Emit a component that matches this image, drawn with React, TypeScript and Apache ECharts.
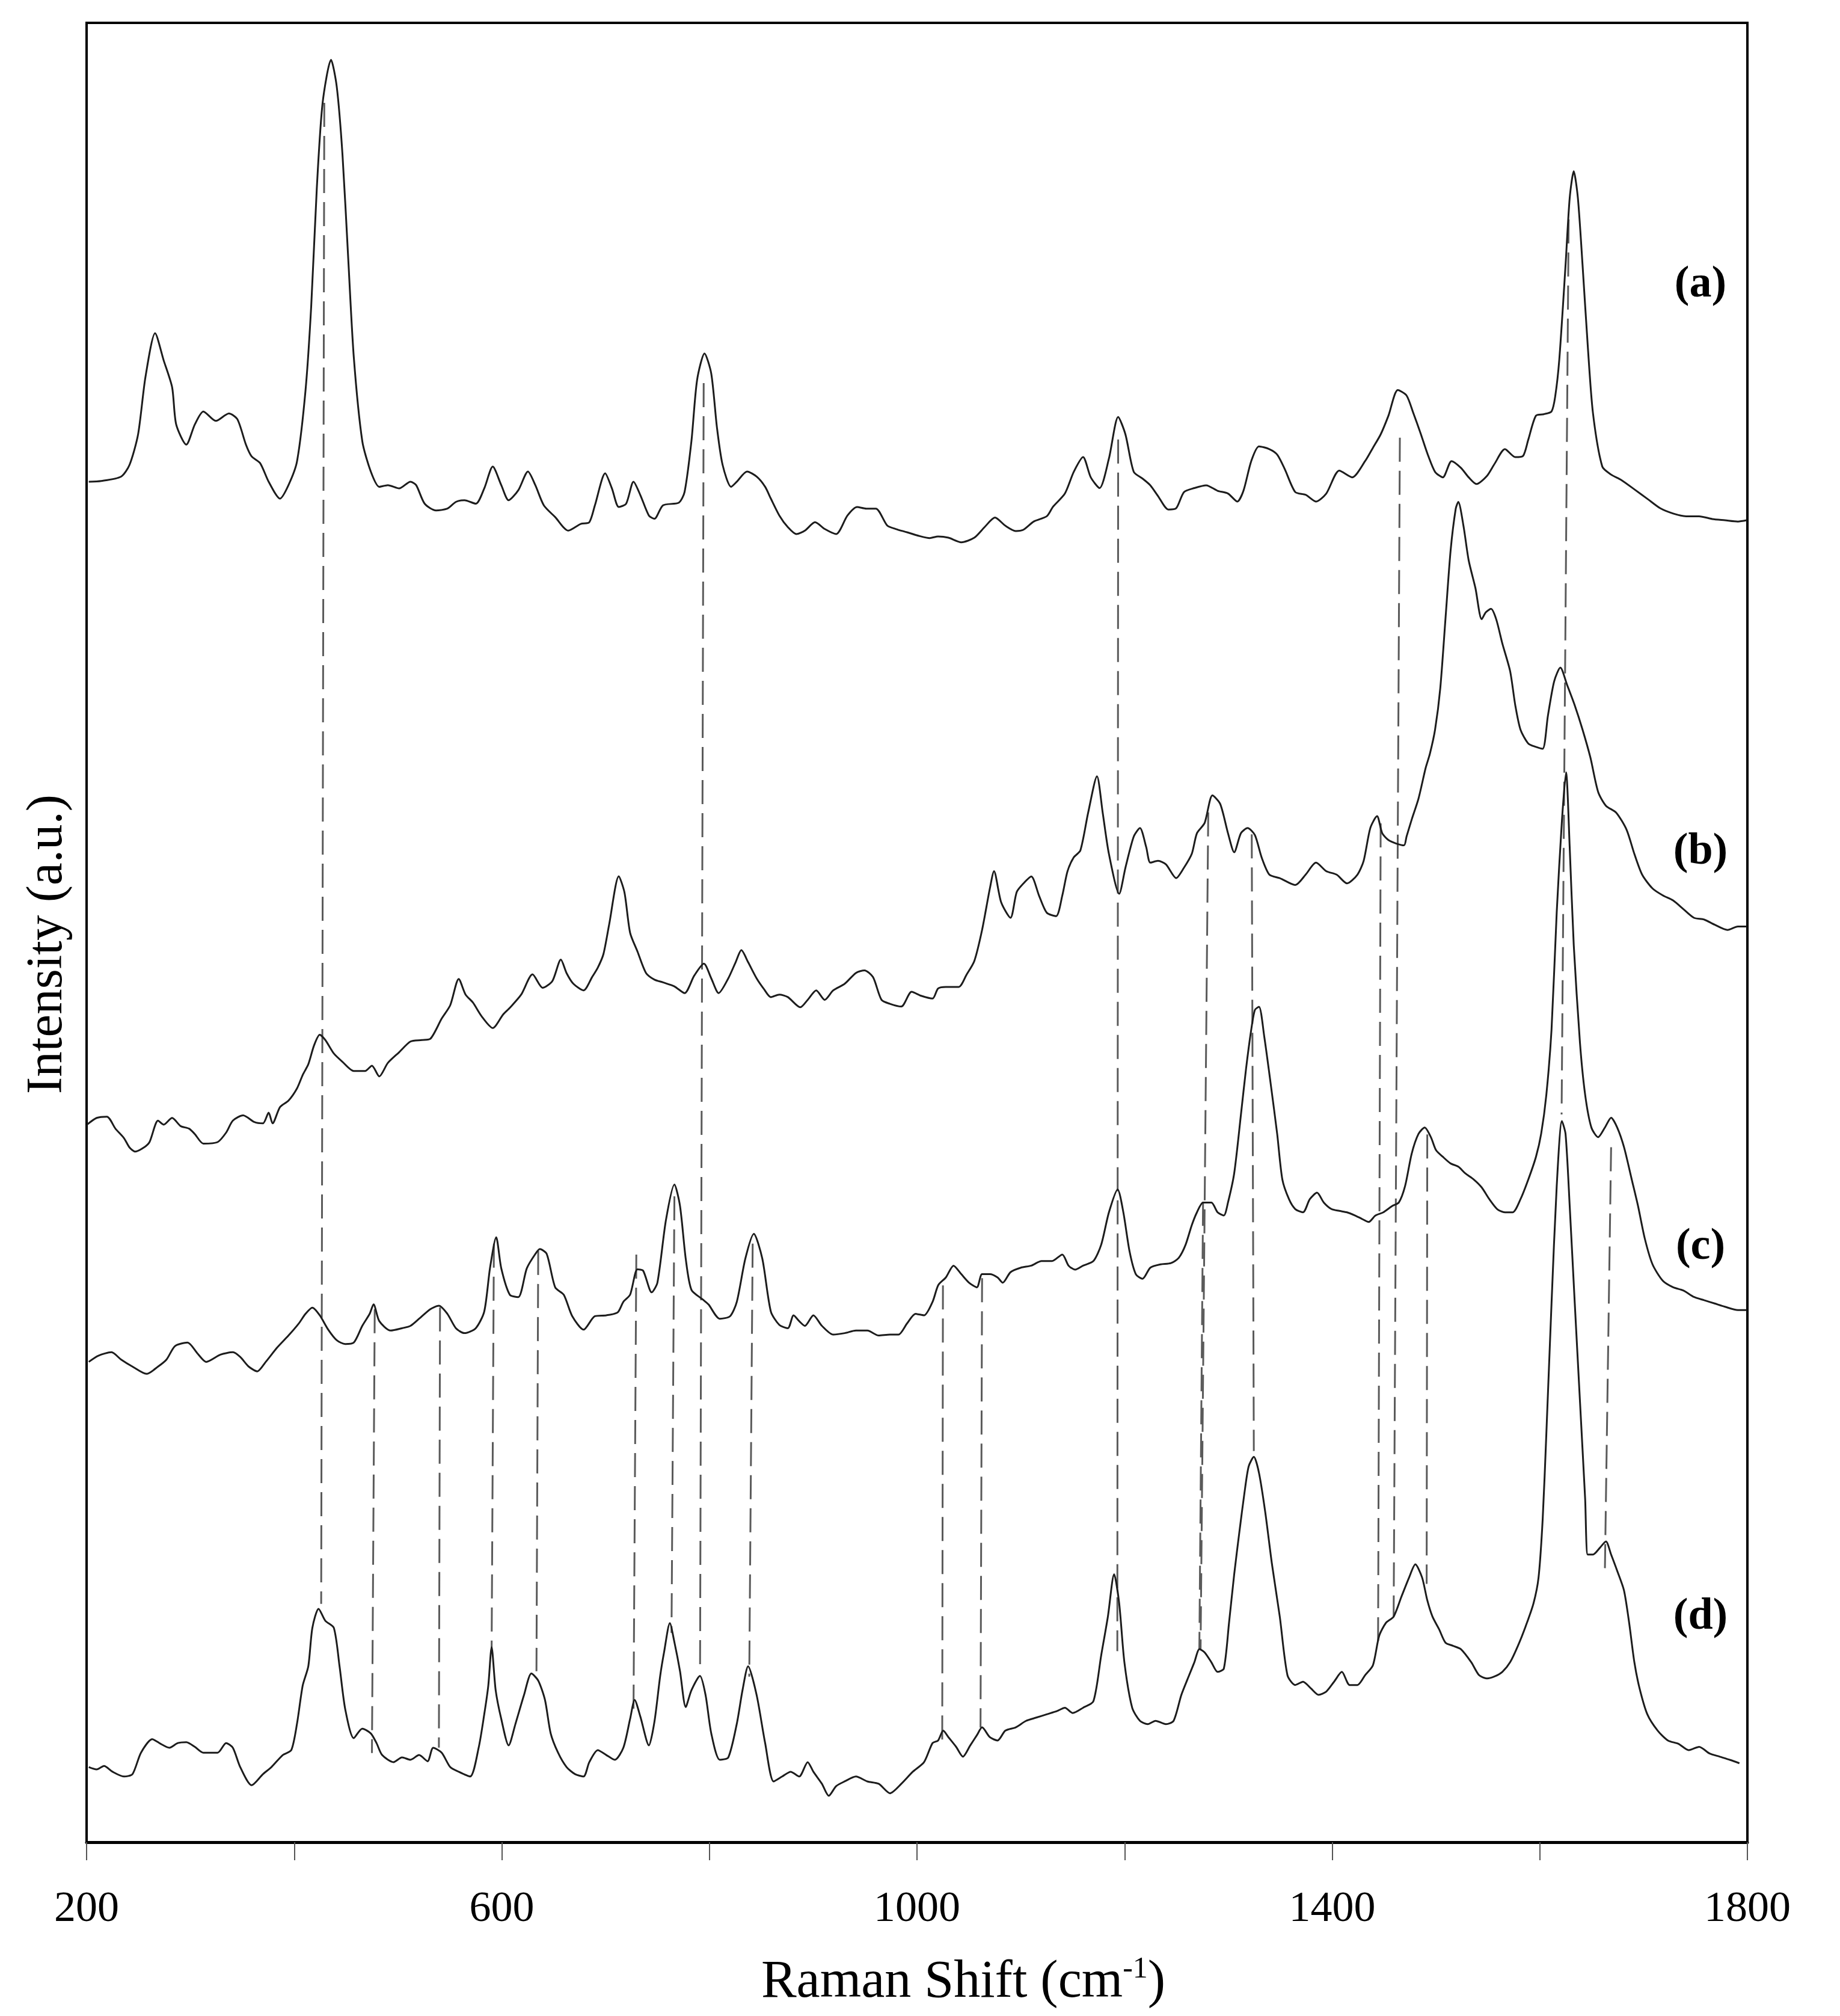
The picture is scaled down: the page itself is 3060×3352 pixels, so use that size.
import React, { useEffect, useRef } from "react";
import * as echarts from "echarts";

// Raman shift (cm-1) / intensity (a.u., vertically offset) pairs
const spectrumA: [number, number][] = [
  [202.1,74.78],[214.1,74.82],[233.2,75.06],[241.4,75.71],[249.6,77.38],[256.7,80.53],[266.0,82.94],[274.2,81.46],[282.4,79.97],[286.3,77.93],
  [296.1,76.82],[304.3,77.93],[312.5,78.64],[324.5,78.12],[337.1,78.53],[345.3,78.21],[353.5,76.82],[359.0,76.17],[367.2,75.80],[375.4,74.78],
  [386.3,73.85],[394.5,74.59],[402.7,75.89],[410.9,79.79],[416.4,84.43],[421.8,90.92],[427.3,95.56],[435.5,97.97],[441.0,96.49],[446.5,92.78],
  [451.9,87.21],[457.4,81.64],[465.6,77.01],[473.8,75.34],[482.0,74.50],[490.2,74.59],[501.1,74.41],[512.0,74.78],[517.5,74.59],[525.7,73.57],
  [536.7,73.20],[547.6,73.30],[555.8,73.67],[564.0,73.76],[575.0,73.57],[583.1,74.41],[591.3,75.61],[599.5,74.59],[606.6,73.76],[616.0,74.32],
  [625.2,75.34],[632.3,74.59],[640.5,73.48],[651.5,72.83],[664.0,72.09],[676.1,72.46],[684.3,72.55],[689.7,73.48],[699.6,75.24],[706.1,74.41],
  [712.7,73.39],[719.8,73.57],[726.9,74.78],[733.5,74.04],[741.7,72.92],[747.1,72.74],[755.3,73.48],[770.6,73.63],[776.1,74.22],[782.7,77.01],
  [788.1,80.35],[795.3,81.83],[801.8,80.72],[807.3,77.75],[812.7,75.71],[820.9,74.50],[826.4,74.78],[836.3,75.34],[845.5,75.06],[853.7,74.50],
  [859.2,73.85],[867.4,72.92],[875.6,72.28],[883.8,71.90],[892.0,72.09],[901.8,72.55],[911.1,72.18],[922.1,71.90],[933.0,72.92],[942.3,73.39],
  [951.1,73.30],[960.4,73.30],[971.3,72.37],[979.5,72.18],[990.4,72.00],[1001.3,71.81],[1012.3,71.68],[1020.3,71.77],[1030.3,71.70],[1042.7,71.45],
  [1055.2,71.70],[1065.2,72.29],[1075.1,72.81],[1085.1,72.36],[1095.1,72.07],[1102.6,72.14],[1112.5,72.59],[1125.0,72.88],[1131.0,73.40],[1142.5,74.13],
  [1151.0,75.32],[1160.0,76.13],[1167.4,75.02],[1175.9,74.43],[1184.9,76.05],[1193.8,78.34],[1200.8,77.38],[1208.8,75.32],[1217.3,74.95],[1224.8,74.58],
  [1232.2,73.99],[1242.2,73.25],[1249.7,73.32],[1257.2,74.21],[1267.2,74.43],[1278.6,74.58],[1289.6,74.28],[1299.6,74.13],[1308.6,73.69],[1314.5,74.28],
  [1322.0,75.91],[1329.5,76.72],[1339.5,76.57],[1347.0,76.27],[1354.4,75.46],[1364.4,74.21],[1374.4,74.06],[1384.4,73.69],[1394.3,74.13],[1406.8,75.39],
  [1419.3,75.02],[1431.7,75.91],[1439.2,76.64],[1446.7,77.38],[1454.2,78.41],[1463.2,79.82],[1471.6,79.52],[1478.1,78.56],[1485.1,77.45],[1491.6,76.35],
  [1499.1,75.32],[1506.6,75.02],[1515.0,75.91],[1524.0,75.54],[1531.5,75.02],[1539.0,74.65],[1549.0,75.09],[1556.4,75.76],[1566.4,76.57],[1576.4,76.13],
  [1583.9,76.20],[1588.9,77.09],[1596.3,78.41],[1603.8,78.49],[1611.3,78.64],[1614.8,79.45],[1618.8,81.51],[1624.8,86.68],[1628.8,90.37],[1632.7,91.84],
  [1636.7,90.37],[1641.2,86.68],[1646.2,82.25],[1651.2,78.56],[1660.2,75.61],[1668.7,75.17],[1678.6,74.87],[1691.1,74.36],[1703.6,73.84],[1716.0,73.32],
  [1728.5,73.03],[1741.0,72.88],[1753.5,72.88],[1766.1,72.73],[1778.4,72.66],[1790.8,72.59],[1799.3,72.66]
];

const spectrumB: [number, number][] = [
  [200.4,39.44],[209.7,39.81],[219.6,39.88],[227.8,39.22],[236.0,38.70],[241.4,38.18],[246.9,37.96],[255.1,38.18],[260.6,38.48],[268.8,39.66],
  [274.2,39.44],[282.4,39.81],[290.6,39.36],[298.8,39.22],[304.3,38.92],[312.5,38.40],[326.2,38.48],[334.4,39.00],[340.9,39.66],[350.8,39.95],
  [361.7,39.58],[369.9,39.51],[375.4,40.10],[379.2,39.51],[386.3,40.40],[394.5,40.76],[402.7,41.43],[408.2,42.17],[413.6,42.76],[419.1,43.79],
  [424.6,44.38],[430.0,44.09],[438.2,43.35],[446.4,42.90],[457.4,42.39],[468.3,42.39],[474.9,42.68],[482.0,42.09],[490.2,42.83],[501.1,43.42],
  [512.0,44.01],[523.0,44.09],[531.2,44.16],[542.1,45.27],[550.3,46.00],[558.5,47.45],[565.1,46.59],[572.2,46.15],[580.4,45.41],[591.3,44.75],
  [601.2,45.49],[607.7,45.86],[618.7,46.59],[629.6,47.70],[639.4,46.96],[648.7,47.33],[656.9,48.51],[662.4,47.77],[669.0,47.18],[678.8,46.82],
  [687.0,47.55],[692.5,48.07],[697.9,48.81],[703.4,50.43],[712.7,53.09],[718.2,52.20],[723.6,49.99],[730.7,48.96],[738.9,47.78],[747.1,47.41],
  [755.3,47.26],[766.3,47.04],[776.1,46.67],[785.4,47.63],[794.7,48.29],[801.8,47.48],[808.9,46.67],[818.2,47.48],[825.3,48.37],[830.8,49.03],
  [837.3,48.37],[845.5,47.48],[852.6,46.89],[859.2,46.45],[867.4,46.59],[875.6,46.45],[887.6,45.89],[894.7,46.30],[902.9,46.82],[911.1,46.30],
  [919.3,46.82],[930.3,47.18],[941.2,47.78],[949.4,47.92],[957.6,47.55],[965.8,46.30],[974.0,46.08],[984.9,45.93],[994.8,46.74],[1004.1,46.52],
  [1015.0,46.37],[1020.3,46.92],[1027.8,47.01],[1040.2,47.01],[1047.7,47.68],[1055.2,48.43],[1062.7,50.14],[1070.2,52.42],[1074.2,53.37],[1081.1,51.66],
  [1090.1,50.81],[1096.1,52.23],[1102.6,52.70],[1110.1,53.08],[1117.5,52.04],[1125.0,51.09],[1134.0,50.90],[1140.0,52.04],[1145.0,53.37],[1151.0,54.13],
  [1157.4,54.51],[1164.9,56.59],[1173.4,58.59],[1178.9,56.59],[1184.9,54.32],[1194.8,52.13],[1200.8,53.56],[1208.8,55.27],[1214.8,55.74],[1220.8,54.70],
  [1224.8,53.84],[1232.2,53.94],[1239.8,53.75],[1249.7,52.99],[1257.2,53.56],[1264.7,54.32],[1269.7,55.46],[1277.1,56.02],[1284.6,57.54],[1292.1,57.07],
  [1299.6,55.46],[1305.6,54.41],[1312.1,55.46],[1318.5,55.74],[1325.5,55.36],[1332.0,54.13],[1339.5,53.18],[1349.5,52.99],[1364.4,52.61],[1374.4,53.18],
  [1384.4,53.84],[1394.3,53.37],[1404.3,53.18],[1414.3,52.70],[1424.3,53.18],[1430.3,53.94],[1436.7,55.74],[1443.2,56.40],[1448.2,55.46],[1454.2,55.08],
  [1461.7,54.89],[1469.2,54.79],[1471.6,55.27],[1476.6,56.21],[1483.1,57.35],[1490.1,59.06],[1494.1,59.82],[1499.1,61.15],[1504.1,63.42],[1509.1,67.22],
  [1514.1,71.01],[1519.0,73.29],[1521.5,73.67],[1526.5,72.34],[1531.5,70.45],[1538.0,68.93],[1544.0,67.22],[1548.0,67.60],[1553.0,67.79],[1558.0,67.22],
  [1563.9,65.89],[1571.4,64.37],[1576.4,62.48],[1581.4,61.15],[1588.9,60.39],[1596.3,60.20],[1602.8,60.10],[1607.8,61.91],[1613.8,63.80],[1619.8,64.56],
  [1626.3,63.61],[1633.7,62.48],[1641.2,61.15],[1648.7,59.63],[1656.2,57.73],[1663.7,56.97],[1673.6,56.59],[1683.6,55.65],[1691.1,54.32],[1698.6,53.18],
  [1708.6,52.42],[1718.5,52.04],[1728.5,51.76],[1738.5,51.28],[1748.5,50.81],[1758.4,50.71],[1768.4,50.43],[1780.9,50.14],[1790.8,50.33],[1799.3,50.33]
];

const spectrumC: [number, number][] = [
  [202.1,26.40],[211.4,26.74],[223.9,26.93],[233.2,26.53],[244.2,26.14],[257.8,25.74],[268.8,26.14],[277.0,26.53],[285.2,27.27],[297.2,27.46],
  [307.0,26.85],[315.2,26.40],[328.9,26.80],[340.9,26.93],[348.0,26.67],[356.2,26.14],[364.4,25.88],[372.6,26.40],[383.6,27.19],[394.5,27.85],
  [404.4,28.51],[410.9,29.04],[417.5,29.38],[424.6,28.96],[432.8,28.17],[441.0,27.59],[449.2,27.38],[457.4,27.46],[465.6,28.38],[472.7,29.04],
  [476.5,29.56],[482.0,28.64],[492.9,28.12],[503.9,28.25],[512.0,28.38],[520.3,28.77],[531.2,29.30],[539.4,29.49],[547.6,29.04],[555.8,28.25],
  [564.0,27.98],[574.9,28.25],[583.1,29.17],[588.6,31.54],[594.6,33.25],[599.5,31.54],[607.7,30.09],[615.9,29.96],[624.1,31.54],[632.3,32.33],
  [636.7,32.60],[643.3,32.33],[651.5,30.49],[659.7,30.09],[667.9,28.91],[678.8,28.17],[689.7,28.91],[700.7,28.96],[711.6,29.12],[717.1,29.70],
  [723.6,30.09],[730.7,31.49],[736.2,31.41],[744.4,30.22],[749.9,30.75],[758.1,34.18],[766.3,36.15],[771.7,34.97],[777.2,32.07],[782.7,30.36],
  [793.6,29.83],[799.1,29.56],[810.0,28.77],[819.9,28.91],[826.4,29.70],[834.6,32.07],[842.8,33.44],[851.0,32.07],[859.2,29.17],[867.4,28.43],
  [875.6,28.25],[881.1,28.96],[886.5,28.64],[892.0,28.38],[900.2,28.96],[908.4,28.38],[919.3,27.90],[930.3,27.98],[941.2,28.12],[952.2,28.12],
  [963.1,27.85],[974.0,27.90],[982.2,27.90],[990.4,28.51],[998.6,29.04],[1006.8,28.96],[1015.0,29.70],[1020.5,30.62],[1027.8,31.04],[1035.2,31.69],
  [1042.7,31.22],[1050.2,30.75],[1057.7,30.50],[1062.7,31.22],[1070.2,31.22],[1077.6,31.04],[1082.6,30.75],[1090.1,31.33],[1100.1,31.58],[1110.1,31.69],
  [1120.0,31.94],[1130.0,31.94],[1140.0,32.30],[1146.0,31.69],[1152.4,31.47],[1160.0,31.69],[1169.9,31.94],[1177.4,32.83],[1184.9,34.62],[1193.3,35.88],
  [1198.8,34.62],[1204.8,32.47],[1210.8,31.22],[1217.3,30.97],[1224.8,31.58],[1234.7,31.76],[1244.7,31.83],[1252.2,32.12],[1258.7,32.83],[1264.7,33.91],
  [1269.7,34.62],[1275.6,35.16],[1283.6,35.16],[1289.6,34.62],[1295.6,34.45],[1299.6,35.16],[1305.6,36.77],[1312.1,40.00],[1317.0,42.51],[1322.0,44.66],
  [1325.5,45.74],[1329.5,45.92],[1334.5,44.30],[1340.5,41.79],[1347.0,38.93],[1352.0,36.42],[1358.4,35.34],[1364.4,34.80],[1371.9,34.62],[1378.4,35.34],
  [1385.4,35.70],[1391.9,35.16],[1399.3,34.80],[1406.8,34.70],[1414.3,34.62],[1421.8,34.45],[1428.3,34.27],[1435.2,34.09],[1441.7,34.45],[1449.2,34.62],
  [1458.2,34.98],[1464.2,35.16],[1470.2,36.06],[1476.6,37.85],[1483.1,38.93],[1489.1,39.28],[1495.1,38.75],[1500.1,38.03],[1506.6,37.67],[1514.0,37.31],
  [1521.5,37.13],[1528.0,36.77],[1536.5,36.42],[1544.0,35.99],[1551.4,35.34],[1558.9,34.80],[1566.4,34.62],[1573.9,34.62],[1581.4,35.34],[1588.9,36.42],
  [1596.3,37.67],[1601.3,38.93],[1606.3,41.08],[1611.3,44.66],[1616.3,51.11],[1621.3,56.13],[1625.3,58.80],[1628.8,54.70],[1632.7,49.32],[1638.7,43.94],
  [1643.7,41.08],[1649.7,39.28],[1656.2,38.75],[1662.7,39.28],[1668.7,39.82],[1674.6,39.28],[1681.1,38.21],[1688.6,36.42],[1694.6,34.98],[1701.1,33.19],
  [1708.6,31.76],[1718.5,30.86],[1728.5,30.50],[1738.5,30.32],[1748.5,29.97],[1758.4,29.79],[1768.4,29.61],[1778.4,29.43],[1790.8,29.25],[1799.3,29.25]
];

const spectrumD: [number, number][] = [
  [202.1,4.13],[209.7,4.00],[216.8,4.19],[225.0,3.87],[236.0,3.61],[244.2,3.74],[252.4,4.92],[263.3,5.66],[271.5,5.40],[279.7,5.19],
  [287.9,5.45],[296.1,5.50],[304.3,5.24],[312.5,4.92],[326.2,4.92],[334.4,5.45],[340.9,5.19],[348.0,4.13],[359.0,3.13],[369.9,3.74],
  [378.1,4.13],[389.0,4.79],[397.2,5.06],[402.7,6.51],[408.2,8.61],[413.6,9.67],[417.5,11.78],[423.5,12.83],[430.0,12.17],[438.2,11.78],
  [443.7,9.67],[449.2,7.30],[457.4,5.72],[465.6,6.24],[473.8,5.98],[479.3,5.45],[484.7,4.79],[495.7,4.40],[503.9,4.66],[512.0,4.53],
  [520.3,4.79],[528.5,4.45],[533.9,5.19],[542.1,4.92],[550.3,4.13],[558.5,3.87],[569.5,3.61],[577.7,5.19],[583.1,7.03],[587.0,8.61],
  [590.2,10.72],[594.1,8.35],[599.5,6.77],[606.6,5.32],[613.2,6.51],[621.4,8.09],[628.5,9.27],[635.1,8.88],[641.6,7.82],[647.1,5.98],
  [654.2,4.92],[662.4,4.13],[670.6,3.74],[678.8,3.61],[684.3,4.40],[692.5,5.06],[700.7,4.79],[708.9,4.53],[717.1,5.19],[723.6,6.77],
  [728.0,7.82],[733.5,6.90],[741.7,5.32],[747.1,6.64],[752.6,9.14],[756.4,10.46],[761.9,12.04],[766.3,10.99],[771.7,9.40],[777.2,7.43],
  [782.7,8.35],[790.9,9.14],[796.3,8.09],[801.8,5.98],[810.0,4.53],[818.2,4.66],[826.4,6.51],[831.9,8.35],[837.3,9.67],[845.5,8.09],
  [853.7,5.45],[861.9,3.34],[870.1,3.61],[878.3,3.87],[886.5,3.61],[894.7,4.40],[900.2,3.87],[908.4,3.21],[915.0,2.55],[922.1,3.08],
  [930.3,3.34],[941.2,3.61],[952.1,3.34],[963.1,3.21],[974.0,2.69],[984.9,3.21],[995.9,3.87],[1006.8,4.40],[1015.0,5.45],[1020.3,5.59],
  [1025.3,6.13],[1030.3,5.77],[1037.7,5.24],[1044.2,4.70],[1051.2,5.31],[1057.7,5.88],[1062.7,6.31],[1070.2,5.77],[1077.6,5.59],[1085.1,6.13],
  [1095.1,6.31],[1105.1,6.67],[1115.0,6.85],[1125.0,7.03],[1135.0,7.21],[1142.5,7.39],[1150.0,7.10],[1160.0,7.39],[1169.9,7.74],[1177.4,10.25],
  [1183.9,12.40],[1189.9,14.73],[1194.8,13.12],[1199.8,9.89],[1207.3,7.39],[1214.8,6.67],[1222.3,6.49],[1229.8,6.67],[1239.8,6.49],[1247.2,6.67],
  [1254.7,8.10],[1262.2,9.18],[1267.2,9.89],[1272.1,10.61],[1277.1,10.43],[1283.6,9.89],[1289.6,9.36],[1295.6,9.54],[1300.6,12.05],[1305.6,14.73],
  [1310.6,17.06],[1315.5,19.21],[1319.5,20.65],[1324.5,21.18],[1329.5,20.29],[1335.5,18.14],[1342.0,15.27],[1349.5,12.40],[1356.9,9.18],[1364.4,8.64],
  [1371.9,8.82],[1379.4,8.46],[1386.9,8.10],[1394.3,8.28],[1401.8,8.82],[1409.3,9.36],[1416.8,8.64],[1424.3,8.64],[1431.7,9.18],[1439.2,9.72],
  [1445.2,11.33],[1451.7,12.05],[1459.2,12.40],[1466.6,13.48],[1474.1,14.55],[1480.1,15.27],[1486.6,14.55],[1491.6,13.30],[1496.6,12.40],[1503.1,11.69],
  [1509.1,10.97],[1516.5,10.79],[1524.0,10.61],[1534.0,9.89],[1541.5,9.18],[1549.0,9.00],[1556.4,9.11],[1563.9,9.36],[1571.4,9.89],[1578.9,10.79],
  [1586.4,11.87],[1593.9,13.12],[1598.8,14.55],[1602.8,17.78],[1606.3,22.44],[1611.3,29.61],[1616.3,36.06],[1621.3,39.64],[1624.8,38.93],[1628.8,34.98],
  [1633.7,29.61],[1638.7,24.23],[1643.7,18.85],[1646.2,15.81],[1651.2,15.81],[1657.7,16.17],[1663.7,16.53],[1668.7,15.81],[1674.6,14.91],[1681.1,13.84],
  [1686.1,12.05],[1691.1,9.89],[1696.1,8.46],[1703.6,7.03],[1713.6,6.13],[1723.5,5.59],[1733.5,5.41],[1743.5,5.06],[1753.5,5.24],[1763.4,4.88],
  [1773.4,4.70],[1783.4,4.52],[1792.3,4.34]
];

// Dashed peak guides: [shift at top, intensity at top, shift at bottom, intensity at bottom]
const peakGuides: [number, number, number, number][] = [
  [429.0, 95.6, 426.0, 13.1],
  [477.6, 29.3, 474.9, 4.9],
  [540.5, 29.4, 539.4, 5.2],
  [592.4, 32.9, 590.2, 10.5],
  [635.1, 32.5, 633.4, 9.4],
  [729.6, 32.3, 726.9, 7.3],
  [766.3, 35.5, 763.5, 11.5],
  [794.5, 80.2, 791.0, 9.3],
  [841.7, 32.9, 838.4, 9.1],
  [1025.0, 30.6, 1024.3, 5.5],
  [1062.7, 31.0, 1061.2, 6.3],
  [1193.8, 77.1, 1193.0, 10.5],
  [1280.6, 56.6, 1273.2, 10.6],
  [1275.6, 35.2, 1272.0, 10.6],
  [1322.5, 55.4, 1324.5, 21.5],
  [1446.7, 56.0, 1444.2, 11.0],
  [1465.2, 77.2, 1459.2, 12.4],
  [1491.6, 38.9, 1491.0, 14.2],
  [1627.8, 89.2, 1621.0, 40.0],
  [1668.7, 38.2, 1662.7, 14.9]
];

const spectrumNames = ["(a)", "(b)", "(c)", "(d)"];
const tickLabels = [200, 600, 1000, 1400, 1800];
const xTitle = "Raman Shift (cm";
const xTitleSup = "-1";
const yTitle = "Intensity (a.u.)";

const SERIF = "'Liberation Serif', 'DejaVu Serif', 'Times New Roman', serif";

export default function App() {
  const ref = useRef<HTMLDivElement>(null);

  useEffect(() => {
    if (!ref.current) return;
    const chart = echarts.init(ref.current, undefined, { renderer: "svg" });

    const spectra = [spectrumA, spectrumB, spectrumC, spectrumD];
    const labelY = [468, 1411, 2068, 2683];

    const guideSeries = peakGuides.map((g, i) => ({
      type: "line",
      name: "guide" + i,
      data: [[g[0], g[1]], [g[2], g[3]]],
      symbol: "none",
      silent: true,
      z: 1,
      lineStyle: { color: "#5a5a5a", width: 3, type: [40, 15] },
    }));

    const spectrumSeries = spectra.map((d, i) => ({
      type: "line",
      name: spectrumNames[i],
      data: d,
      symbol: "none",
      smooth: 0.25,
      z: 3,
      lineStyle: { color: "#1c1c1c", width: 3 },
    }));

    const option: any = {
      animation: false,
      backgroundColor: "#ffffff",
      grid: {
        left: 144,
        top: 38,
        width: 2762,
        height: 3025,
        show: true,
        borderColor: "#000",
        borderWidth: 4,
        backgroundColor: "transparent",
      },
      xAxis: {
        type: "value",
        min: 200,
        max: 1800,
        interval: 200,
        axisLine: { show: true, onZero: false, lineStyle: { color: "#000", width: 5 } },
        axisTick: { show: true, inside: false, length: 30, lineStyle: { color: "#555", width: 2 } },
        axisLabel: {
          margin: 71,
          fontFamily: SERIF,
          fontSize: 72,
          color: "#000",
          formatter: (v: number) => (tickLabels.includes(v) ? String(v) : ""),
        },
        splitLine: { show: false },
      },
      yAxis: {
        type: "value",
        min: 0,
        max: 100,
        axisLine: { show: true, lineStyle: { color: "#000", width: 4 } },
        axisTick: { show: false },
        axisLabel: { show: false },
        splitLine: { show: false },
      },
      graphic: [
        {
          type: "text",
          x: 73,
          y: 1570,
          rotation: Math.PI / 2,
          style: {
            text: yTitle,
            fontFamily: SERIF,
            fontSize: 85,
            fill: "#000",
            align: "center",
            verticalAlign: "middle",
            textAlign: "center",
            textVerticalAlign: "middle",
          },
        },
        {
          type: "text",
          x: 1602,
          y: 3290,
          style: {
            text: xTitle + "{sup|" + xTitleSup + "}" + ")",
            fontFamily: SERIF,
            fontSize: 88,
            fill: "#000",
            align: "center",
            verticalAlign: "middle",
            textAlign: "center",
            textVerticalAlign: "middle",
            rich: {
              sup: { fontFamily: SERIF, fontSize: 50, fill: "#000", verticalAlign: "top", lineHeight: 88 },
            },
          },
        },
        ...spectrumNames.map((n, i) => ({
          type: "text",
          x: 2828,
          y: labelY[i],
          style: {
            text: n,
            fontFamily: SERIF,
            fontSize: 74,
            fontWeight: "bold",
            fill: "#000",
            align: "center",
            verticalAlign: "middle",
            textAlign: "center",
            textVerticalAlign: "middle",
          },
        })),
      ],
      series: [...guideSeries, ...spectrumSeries],
    };

    chart.setOption(option);
    return () => chart.dispose();
  }, []);

  return (
    <div
      ref={ref}
      style={{ position: "absolute", left: 0, top: 0, width: 3060, height: 3352, background: "#fff" }}
    />
  );
}
